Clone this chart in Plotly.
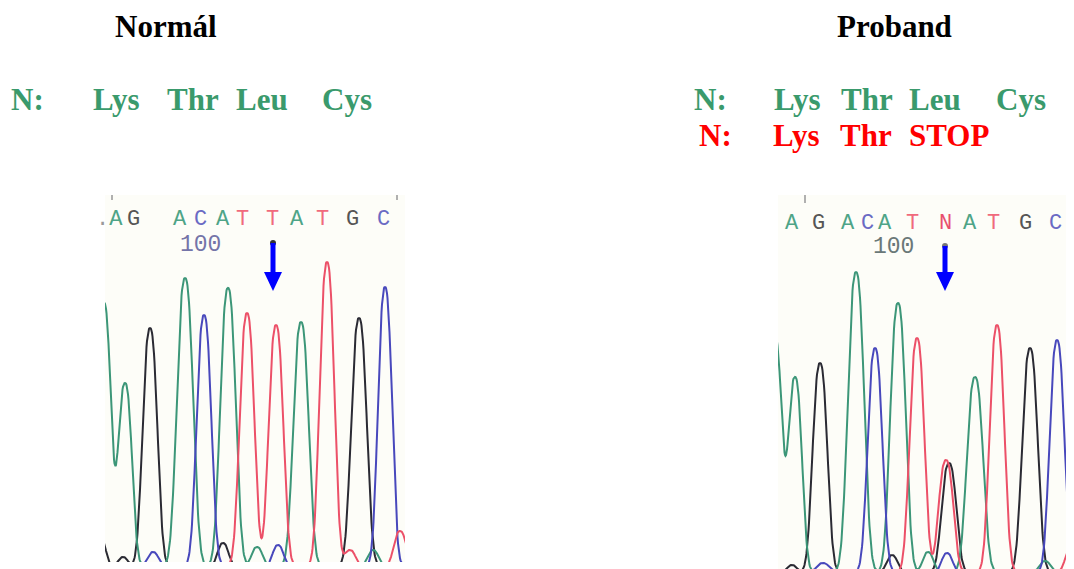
import numpy as np
import plotly.graph_objects as go

# browser page adds an 8px body margin; the figure is sized to fill the rest
OFF = 8
W, H = 1074 - OFF, 569 - OFF

# ---------------- data ----------------
# Peak calls: scan position, peak height, base channel, peak width
# Normal (left) chromatogram
normal_pos = [-1, 20, 45, 80, 99, 123, 142, 171, 196, 222, 254, 280, 295,
              -5, 18, 48, 118, 152, 173, 245, 268]
normal_h = [263, 183, 238, 288, 251, 278, 253, 241, 244, 304, 248, 279, 35,
            30, 9, 14, 23, 19, 21, 16, 16]
normal_base = ["A", "A", "G", "A", "C", "A", "T", "T", "A", "T", "G", "C", "T",
               "G", "G", "C", "G", "A", "C", "T", "A"]
normal_w = [9, 9, 9.5, 10.5, 9.5, 10, 9.5, 9.5, 10, 9.5, 10, 9, 8,
            7, 6, 7, 7, 7, 7, 7, 7]

# Proband (right) chromatogram
proband_pos = [-3, 17, 42, 78, 97, 120, 139, 168, 171, 197, 219, 252, 279, 294,
               14, 45, 114, 150, 169, 267]
proband_h = [235, 195, 209, 300, 224, 269, 234, 112, 109, 195, 247, 224, 232, 27,
             7, 9, 17, 20, 19, 11]
proband_base = ["A", "A", "G", "A", "C", "A", "T", "T", "G", "A", "T", "G", "C", "T",
                "G", "C", "G", "A", "C", "A"]
proband_w = [9, 9, 9.5, 10.5, 9.5, 10, 9.5, 9.5, 9.5, 10.5, 9.5, 10, 9.5, 8,
             6, 8, 7, 7, 7, 7]

# Base calls printed above the traces
normal_calls = list("AGACATTATGC")
normal_call_pos = [10, 28, 75, 95, 118, 137, 167, 192, 217, 247, 278]
proband_calls = list("AGACATNATGC")
proband_call_pos = [14, 40, 70, 89, 107, 134, 167, 192, 215, 247, 277]
ruler_label = "100"

# Amino-acid translation rows
aa_normal = ["Lys", "Thr", "Leu", "Cys"]
aa_mutant = ["Lys", "Thr", "STOP"]

# ---------------- styles ----------------
trace_col = {"A": "#3c9678", "C": "#4848bc", "G": "#2a2a33", "T": "#ec5068"}
call_col = {"A": "#4ea487", "C": "#6a6ac4", "G": "#555555", "T": "#f06a7c", "N": "#e8506e"}
GREEN = "#3a9a6c"
RED = "#ff0000"


def px(x):
    return (x - OFF) / W


def py(y):
    return 1 - (y - OFF) / H


def channels(pos, hts, bases, widths, xmax):
    xs = np.arange(-15, xmax + 15.01, 0.5)
    out = {}
    for b in "ACGT":
        y = np.zeros_like(xs)
        for c, h, bb, s in zip(pos, hts, bases, widths):
            if bb == b:
                y += h * np.exp(-np.abs((xs - c) / s) ** 2.5)
        out[b] = y
    return xs, out


fig = go.Figure()

# panel geometry (pixels in the reference)
L = dict(x0=105, x1=405, y0=195, y1=562, base=566)
R = dict(x0=778, x1=1074, y0=195, y1=569, base=572)

for panel, (pos, hts, bases, wd), ax in [
    (L, (normal_pos, normal_h, normal_base, normal_w), ""),
    (R, (proband_pos, proband_h, proband_base, proband_w), "2"),
]:
    xmax = panel["x1"] - panel["x0"]
    xs, ch = channels(pos, hts, bases, wd, xmax)
    for b in ["G", "A", "C", "T"]:
        fig.add_trace(go.Scatter(x=xs, y=ch[b], mode="lines",
                                 line=dict(color=trace_col[b], width=2),
                                 xaxis="x" + ax, yaxis="y" + ax,
                                 hoverinfo="skip", showlegend=False))

axis_common = dict(showgrid=False, zeroline=False, showticklabels=False,
                   ticks="", showline=False, fixedrange=True)


def yrange(p):
    off = p["base"] - p["y1"]
    return [off, off + (p["y1"] - p["y0"])]


fig.update_layout(
    width=W, height=H,
    margin=dict(l=0, r=0, t=0, b=0),
    paper_bgcolor="white",
    plot_bgcolor="#fdfdf8",
    xaxis=dict(domain=[px(L["x0"]), px(L["x1"])], range=[0, L["x1"] - L["x0"]], **axis_common),
    yaxis=dict(domain=[py(L["y1"]), py(L["y0"])], range=yrange(L), **axis_common),
    xaxis2=dict(domain=[px(R["x0"]), min(1, px(R["x1"]))], range=[0, R["x1"] - R["x0"]], anchor="y2", **axis_common),
    yaxis2=dict(domain=[max(0, py(R["y1"])), py(R["y0"])], range=yrange(R), anchor="x2", **axis_common),
)

ann = []
serif = "Liberation Serif, Times New Roman, serif"
ann.append(dict(x=px(166), y=py(26), text="<b>Normál</b>", font=dict(family=serif, size=31, color="black"),
                xanchor="center", yanchor="middle"))
ann.append(dict(x=px(894), y=py(26), text="<b>Proband</b>", font=dict(family=serif, size=31, color="black"),
                xanchor="center", yanchor="middle"))

left_x = [92, 166, 235, 321]
right_x = [773, 840, 908, 995]
red_x = [772, 839, 908]
ann.append(dict(x=px(9), y=py(99), text="<b>N:</b>", font=dict(family=serif, size=31, color=GREEN),
                xanchor="left", yanchor="middle"))
for t, x in zip(aa_normal, left_x):
    ann.append(dict(x=px(x - 1), y=py(99), text="<b>%s</b>" % t, font=dict(family=serif, size=31, color=GREEN),
                    xanchor="left", yanchor="middle"))
ann.append(dict(x=px(692), y=py(99), text="<b>N:</b>", font=dict(family=serif, size=31, color=GREEN),
                xanchor="left", yanchor="middle"))
for t, x in zip(aa_normal, right_x):
    ann.append(dict(x=px(x - 1), y=py(99), text="<b>%s</b>" % t, font=dict(family=serif, size=31, color=GREEN),
                    xanchor="left", yanchor="middle"))
ann.append(dict(x=px(697), y=py(136), text="<b>N:</b>", font=dict(family=serif, size=31, color=RED),
                xanchor="left", yanchor="middle"))
for t, x in zip(aa_mutant, red_x):
    ann.append(dict(x=px(x - 1), y=py(136), text="<b>%s</b>" % t, font=dict(family=serif, size=31, color=RED),
                    xanchor="left", yanchor="middle"))

# Base calls
mono = "Liberation Mono, Courier New, monospace"
CALL_SIZE = 22
for calls, cpos, xr, yy, lead in [(normal_calls, normal_call_pos, "x", 219, True),
                                  (proband_calls, proband_call_pos, "x2", 223, False)]:
    for i, (b, c) in enumerate(zip(calls, cpos)):
        txt = b
        xs_ = 0
        if lead and i == 0:
            # partial letter cut off at the window edge shows as a dot
            txt = "<span style='color:#999999'>.</span>" + b
            xs_ = -int(CALL_SIZE * 0.3)
        ann.append(dict(x=c, xref=xr, y=py(yy), yref="paper", text=txt, xshift=xs_,
                        font=dict(family=mono, size=CALL_SIZE, color=call_col[b]),
                        xanchor="center", yanchor="middle", showarrow=False, borderpad=0))
ann.append(dict(x=px(200), y=py(245), text=ruler_label, font=dict(family=mono, size=23, color="#7474a8"),
                xanchor="center", yanchor="middle", borderpad=0))
ann.append(dict(x=px(893), y=py(247), text=ruler_label, font=dict(family=mono, size=23, color="#6a7878"),
                xanchor="center", yanchor="middle", borderpad=0))

for a in ann:
    a.setdefault("xref", "paper")
    a.setdefault("yref", "paper")
    a.setdefault("showarrow", False)
fig.update_layout(annotations=ann)

shapes = []
for x, y0, y1 in [(112, 195, 200), (397, 195, 200), (805, 195, 203), (1067, 195, 201)]:
    shapes.append(dict(type="line", xref="paper", yref="paper", x0=px(x), x1=px(x), y0=py(y0), y1=py(y1),
                       line=dict(color="#b0b0b0", width=2)))
for ax_x, top, dotcol in [(273, 243, "#333333"), (945, 246, "#777777")]:
    shapes.append(dict(type="circle", xref="paper", yref="paper", x0=px(ax_x - 3), x1=px(ax_x + 3),
                       y0=py(top - 3), y1=py(top + 3), fillcolor=dotcol, line=dict(width=0)))
    shapes.append(dict(type="rect", xref="paper", yref="paper", x0=px(ax_x - 2.5), x1=px(ax_x + 2.5),
                       y0=py(top), y1=py(273), fillcolor="#0000ff", line=dict(width=0)))
    path = "M %f,%f L %f,%f L %f,%f Z" % (px(ax_x - 9), py(272), px(ax_x + 9), py(272), px(ax_x), py(291))
    shapes.append(dict(type="path", xref="paper", yref="paper", path=path, fillcolor="#0000ff",
                       line=dict(width=0)))
fig.update_layout(shapes=shapes)

fig.write_html("out.html")
